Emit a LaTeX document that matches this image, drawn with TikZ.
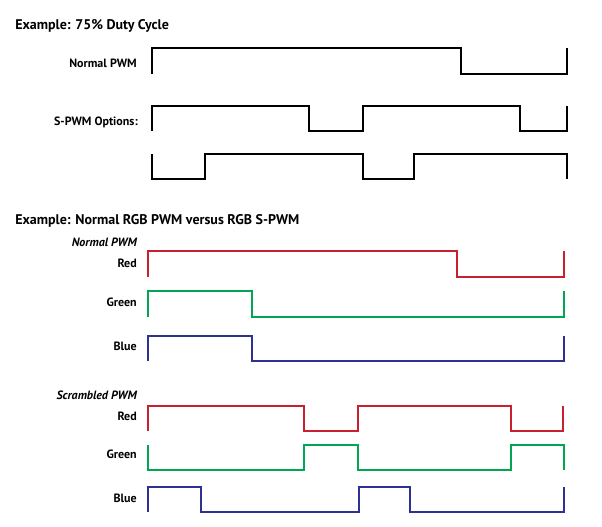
\documentclass[tikz,border=0pt]{standalone}
\usepackage{fontspec}
\setmainfont{PT Sans}
\definecolor{redpwm}{HTML}{C8202F}
\definecolor{greenpwm}{HTML}{00A651}
\definecolor{bluepwm}{HTML}{2E3192}

\begin{document}
\begin{tikzpicture}[x=0.75pt,y=-0.75pt,
  wave/.style={line width=1.5pt,line join=miter},
  title/.style={anchor=base west,inner sep=0,font=\bfseries\fontsize{10.5}{12}\selectfont},
  lbl/.style={anchor=base east,inner sep=0,font=\bfseries\fontsize{9}{11}\selectfont},
  sub/.style={anchor=base east,inner sep=0,font=\bfseries\itshape\fontsize{9}{11}\selectfont}]

  \useasboundingbox (0,0) rectangle (602,526);

  % 75% duty cycle
  \node[title] (duty) at (15,29.5) {Example: 75\% Duty Cycle};
  \node[lbl] (normal) at (137,67.5) {Normal PWM};
  \node[lbl] (spwm) at (138,125) {S-PWM Options:};

  \draw[wave] (152,74) -- (152,48) -- (461,48) -- (461,74) -- (567,74) -- (567,48);
  \draw[wave] (152,131) -- (152,106) -- (309,106) -- (309,131) -- (363,131)
    -- (363,106) -- (520,106) -- (520,131) -- (567,131) -- (567,106);
  \draw[wave] (152,154) -- (152,179) -- (205,179) -- (205,154) -- (363,154)
    -- (363,179) -- (414,179) -- (414,154) -- (567,154) -- (567,179);

  % normal rgb pwm
  \node[title] (rgb) at (15,224.3) {Example: Normal RGB PWM versus RGB S-PWM};
  \node[sub] (normrgb) at (137,246.7) {Normal PWM};
  \node[lbl] (nred) at (137,267.7) {Red};
  \node[lbl] (ngreen) at (137,306) {Green};
  \node[lbl] (nblue) at (137,350.7) {Blue};

  \draw[wave,redpwm] (148,277) -- (148,251) -- (457,251) -- (457,277) -- (564,277) -- (564,251);
  \draw[wave,greenpwm] (148,317) -- (148,291) -- (252,291) -- (252,317) -- (564,317) -- (564,291);
  \draw[wave,bluepwm] (148,361) -- (148,336) -- (252,336) -- (252,361) -- (564,361) -- (564,336);

  % scrambled pwm
  \node[sub] (scram) at (137,399) {Scrambled PWM};
  \node[lbl] (sred) at (137,420) {Red};
  \node[lbl] (sgreen) at (137,458.7) {Green};
  \node[lbl] (sblue) at (137,502.7) {Blue};

  \draw[wave,redpwm] (148,431) -- (148,406) -- (304,406) -- (304,431) -- (358,431)
    -- (358,406) -- (511,406) -- (511,431) -- (563,431) -- (563,406);
  \draw[wave,greenpwm] (148,445) -- (148,470) -- (304,470) -- (304,445) -- (358,445)
    -- (358,470) -- (511,470) -- (511,445) -- (564,445) -- (564,470);
  \draw[wave,bluepwm] (148,512) -- (148,487) -- (201,487) -- (201,512) -- (359,512)
    -- (359,487) -- (410,487) -- (410,512) -- (564,512) -- (564,487);
\end{tikzpicture}
\end{document}
